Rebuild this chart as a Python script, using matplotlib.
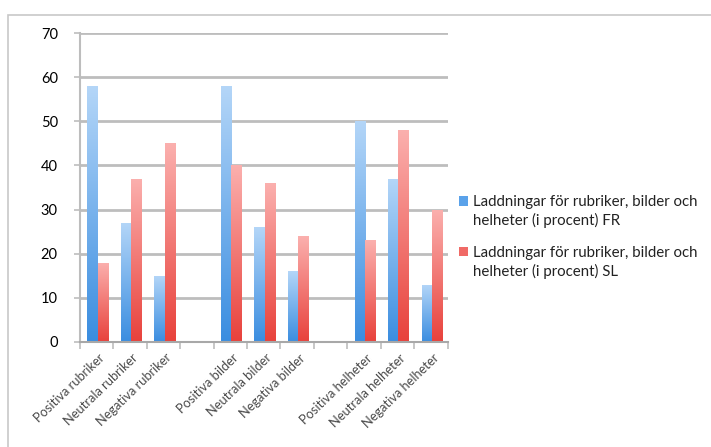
import numpy as np
import matplotlib
matplotlib.use("Agg")
import matplotlib.pyplot as plt
from matplotlib.patches import Rectangle, Patch
from matplotlib.colors import LinearSegmentedColormap
from matplotlib.legend_handler import HandlerPatch

plt.rcParams['font.family'] = ['Lato', 'DejaVu Sans']

categories = ['Positiva rubriker', 'Neutrala rubriker', 'Negativa rubriker', '',
              'Positiva bilder', 'Neutrala bilder', 'Negativa bilder', '',
              'Positiva helheter', 'Neutrala helheter', 'Negativa helheter']
fr_values = [58, 27, 15, 0, 58, 26, 16, 0, 50, 37, 13]
sl_values = [18, 37, 45, 0, 40, 36, 24, 0, 23, 48, 30]
series_labels = ['Laddningar för rubriker, bilder och\nhelheter (i procent) FR',
                 'Laddningar för rubriker, bilder och\nhelheter (i procent) SL']

blue_cmap = LinearSegmentedColormap.from_list('b', ['#3a8de0', '#b4d6f8'])
red_cmap = LinearSegmentedColormap.from_list('r', ['#e8413b', '#fbb0ae'])

fig = plt.figure(figsize=(7.11, 4.47), dpi=100)
ax = fig.add_axes([0.1125, 0.235, 0.517, 0.691])

x = np.arange(len(categories))
w = 0.31
grad = np.linspace(0, 1, 256).reshape(-1, 1)


def gradient_bars(xs, vals, cmap):
    bars = ax.bar(xs, vals, w, color='none', zorder=2)
    for b in bars:
        if b.get_height() <= 0:
            continue
        im = ax.imshow(grad, cmap=cmap, aspect='auto', origin='lower',
                       extent=[b.get_x(), b.get_x() + b.get_width(), 0, b.get_height()],
                       zorder=2)
        im.set_clip_path(b)
    return bars


gradient_bars(x - w / 2 + 0.03, fr_values, blue_cmap)
gradient_bars(x + w / 2 + 0.03, sl_values, red_cmap)

ax.set_xlim(-0.5, len(categories) - 0.5)
ax.set_ylim(0, 70)
ax.set_yticks(range(0, 71, 10))
ax.yaxis.grid(True, color='#bdbdbd', linewidth=2)
ax.set_axisbelow(True)
for s in ['top', 'right']:
    ax.spines[s].set_visible(False)
ax.spines['left'].set_color('#bdbdbd')
ax.spines['left'].set_linewidth(1.5)
ax.spines['bottom'].set_color('#a8a8a8')
ax.spines['bottom'].set_linewidth(1.5)

ax.set_xticks(np.arange(-0.5, len(categories), 1))
ax.set_xticklabels([])
ax.tick_params(axis='x', length=5, color='#bdbdbd', width=1.2)
ax.tick_params(axis='y', length=4, color='#bdbdbd', width=1.2, labelsize=10.5, pad=12)
for i, c in enumerate(categories):
    if c:
        ax.text(i + 0.05, -2.2, c, rotation=44, ha='right', va='top',
                rotation_mode='anchor', fontsize=9.3, color='#4a4a4a')


# legend square sits next to the first text line, as in Excel
def top_square(legend, orig_handle, xdescent, ydescent, width, height, fontsize):
    return Rectangle((-xdescent, -ydescent + 0.72 * fontsize), width, height)


handles = [Patch(facecolor='#5aa2ea', edgecolor='none'),
           Patch(facecolor='#f06a66', edgecolor='none')]
leg = ax.legend(handles, series_labels, loc='center left',
                bbox_to_anchor=(0.995, 0.34), frameon=False,
                handlelength=0.6, handleheight=0.6, handletextpad=0.35,
                labelspacing=1.15, fontsize=10.8,
                handler_map={Patch: HandlerPatch(patch_func=top_square)})
for t in leg.get_texts():
    t.set_linespacing(1.35)
    t.set_color('#222222')

fig.patches.append(Rectangle((8 / 711, -0.05), 2, 1 - 15 / 447 + 0.05,
                             transform=fig.transFigure, fill=False,
                             edgecolor='#c8c8c8', linewidth=1.2))

fig.savefig('out.png', dpi=100)
